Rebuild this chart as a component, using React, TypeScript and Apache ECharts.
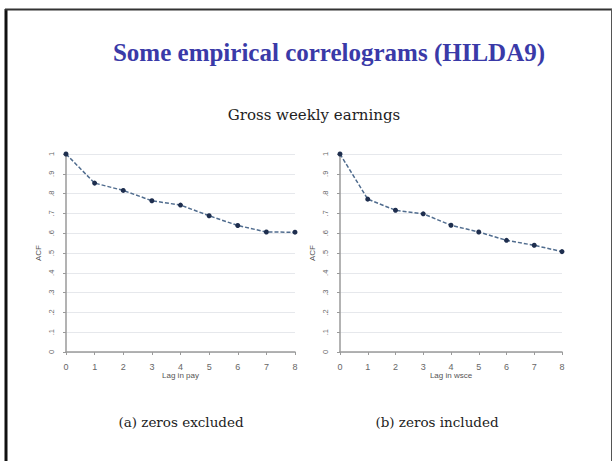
import React, { useEffect, useRef } from "react";
import * as echarts from "echarts";

// Autocorrelation of gross weekly earnings by lag (HILDA wave 9)
const lags = [0, 1, 2, 3, 4, 5, 6, 7, 8];
const acfZerosExcluded = [1.0, 0.853, 0.816, 0.764, 0.742, 0.688, 0.639, 0.606, 0.605];
const acfZerosIncluded = [1.0, 0.772, 0.716, 0.698, 0.64, 0.606, 0.564, 0.539, 0.507];

const titleText = "Some empirical correlograms (HILDA9)";
const subtitleText = "Gross weekly earnings";
const panelCaptions = ["(a) zeros excluded", "(b) zeros included"];
const xAxisNames = ["Lag in pay", "Lag in wsce"];
const yAxisName = "ACF";

const SERIF = "'Liberation Serif', 'DejaVu Serif', serif";
const BOOK = "'DejaVu Serif', 'Liberation Serif', serif";
const SANS = "'Liberation Sans', Arial, sans-serif";

const fmtY = (v: number) => {
  if (v === 0) return "0";
  if (v === 1) return "1";
  return "." + Math.round(v * 10);
};

export default function App() {
  const ref = useRef<HTMLDivElement>(null);

  useEffect(() => {
    if (!ref.current) return;
    const chart = echarts.init(ref.current, null, { renderer: "svg" });

    const grids = [
      { left: 66, top: 154, width: 229, height: 198 },
      { left: 340, top: 154, width: 222, height: 198 },
    ];

    const xAxes = grids.map((_, i) => ({
      type: "value",
      gridIndex: i,
      min: 0,
      max: 8,
      interval: 1,
      offset: 6,
      name: xAxisNames[i],
      nameLocation: "middle",
      nameGap: 13,
      nameTextStyle: { fontFamily: SANS, fontSize: 8, color: "#555" },
      axisLine: { show: true, lineStyle: { color: "#9a9a9a", width: 1.5 } },
      axisTick: { show: true, length: 3, lineStyle: { color: "#9a9a9a" } },
      axisLabel: { fontFamily: SANS, fontSize: 9, color: "#666", margin: 4 },
      splitLine: { show: false },
    }));

    const yAxes = grids.map((_, i) => ({
      type: "value",
      gridIndex: i,
      min: 0,
      max: 1,
      interval: 0.1,
      offset: 4,
      name: yAxisName,
      nameLocation: "middle",
      nameGap: 20,
      nameRotate: 90,
      nameTextStyle: { fontFamily: SANS, fontSize: 8, color: "#555" },
      axisLine: { show: true, lineStyle: { color: "#9a9a9a", width: 1.5 } },
      axisTick: { show: true, length: 3, lineStyle: { color: "#9a9a9a" } },
      axisLabel: {
        fontFamily: SANS,
        fontSize: 7.5,
        color: "#666",
        rotate: 90,
        margin: 7,
        formatter: fmtY,
      },
      splitLine: { show: true, lineStyle: { color: "#e6e8ec", width: 1 } },
    }));

    const mkSeries = (vals: number[], i: number) => ({
      type: "line",
      xAxisIndex: i,
      yAxisIndex: i,
      data: lags.map((l, k) => [l, vals[k]]),
      symbol: "circle",
      symbolSize: 5,
      itemStyle: { color: "#1e2e4e" },
      lineStyle: { color: "#506c8e", width: 1.5, type: [4, 2] },
    });

    chart.setOption({
      animation: false,
      backgroundColor: "#ffffff",
      grid: grids,
      xAxis: xAxes,
      yAxis: yAxes,
      series: [mkSeries(acfZerosExcluded, 0), mkSeries(acfZerosIncluded, 1)],
      graphic: [
        // slide frame
        { type: "line", shape: { x1: 6, y1: 9, x2: 6, y2: 461 }, style: { stroke: "#111", lineWidth: 3 } },
        { type: "line", shape: { x1: 5, y1: 9.5, x2: 612, y2: 9.5 }, style: { stroke: "#333", lineWidth: 2 } },
        { type: "line", shape: { x1: 611.5, y1: 9, x2: 611.5, y2: 461 }, style: { stroke: "#555", lineWidth: 1 } },
        {
          type: "text",
          x: 329,
          y: 52,
          style: {
            text: titleText,
            fill: "#3a3aa8",
            font: `bold 25px ${SERIF}`,
            align: "center",
            verticalAlign: "middle",
          },
        },
        {
          type: "text",
          x: 314,
          y: 115,
          style: {
            text: subtitleText,
            fill: "#222",
            font: `15px ${BOOK}`,
            align: "center",
            verticalAlign: "middle",
          },
        },
        {
          type: "text",
          x: 181,
          y: 422,
          style: {
            text: panelCaptions[0],
            fill: "#222",
            font: `13.5px ${BOOK}`,
            align: "center",
            verticalAlign: "middle",
          },
        },
        {
          type: "text",
          x: 437,
          y: 422,
          style: {
            text: panelCaptions[1],
            fill: "#222",
            font: `13.5px ${BOOK}`,
            align: "center",
            verticalAlign: "middle",
          },
        },
      ],
    });

    return () => chart.dispose();
  }, []);

  return (
    <div
      ref={ref}
      style={{ position: "fixed", left: 0, top: 0, width: 614, height: 461 }}
    />
  );
}
